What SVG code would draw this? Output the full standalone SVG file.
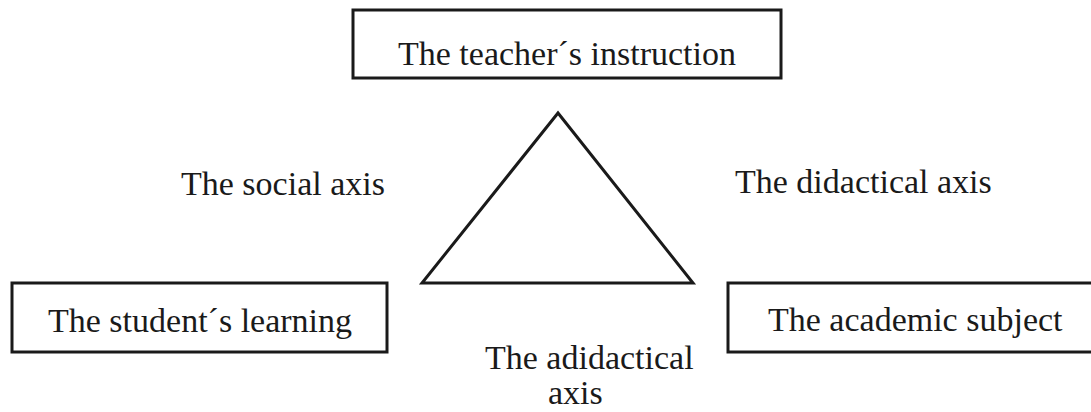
<svg xmlns="http://www.w3.org/2000/svg" width="1091" height="412" viewBox="0 0 1091 412">
<style>
.box{fill:#fff;stroke:#1a1a1a;stroke-width:3}
.t{font-family:"Liberation Serif","Times New Roman",serif;font-size:34px;fill:#1a1a1a}
.edge{fill:none;stroke:#1a1a1a;stroke-width:3;stroke-linejoin:miter}
</style>
<rect width="1091" height="412" fill="#fff"/>
<g id="teacher">
<rect class="box" x="353" y="10" width="428" height="68"/>
<text class="t" x="398" y="65">The teacher´s instruction</text>
</g>
<g id="student">
<rect class="box" x="12" y="283" width="375" height="69"/>
<text class="t" x="48" y="332">The student´s learning</text>
</g>
<g id="subject">
<rect class="box" x="728" y="283" width="380" height="69"/>
<text class="t" x="768" y="331">The academic subject</text>
</g>
<g id="connectors">
<polygon class="edge" points="558,113 693,283 422,283"/>
</g>
<g id="labels">
<text class="t" x="181" y="195">The social axis</text>
<text class="t" x="735" y="193">The didactical axis</text>
<text class="t" x="485" y="369">The adidactical</text>
<text class="t" x="548" y="404">axis</text>
</g>
</svg>
